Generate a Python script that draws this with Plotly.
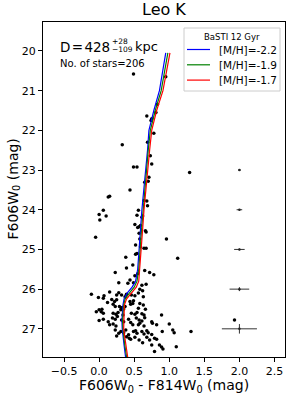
import plotly.graph_objects as go

# ---- data ----
star_color = [
    0.49, 0.95, 0.83, 0.81, 0.68, 0.75, 0.74, 0.78, 0.33, 0.69, 0.73, 0.75, 0.49, 0.54, 0.71, 0.70, 0.65, 1.29,
    0.44, 0.15, 0.13, 0.64, 0.68, 0.69, 0.56, 0.06, 0.00, 0.10, 0.01, 0.54, 0.62, 0.61, 0.51, 0.57, 0.59, 0.55,
    0.57, 0.67, 0.66, -0.05, 0.96, 0.58, 0.52, 0.59, 0.64, 0.67, 1.12, 0.38, 0.52, 0.54, 0.48, 0.39, 0.23, 0.65,
    0.72, 0.78, 0.55, 0.51, 0.44, 0.49, 0.41, 0.28, 0.67, 0.61,
    0.62, 0.58, 0.56, 0.28, -0.11, -0.01, 0.07, 0.15, 0.12, 0.22, 0.25, 0.32, 0.39, 0.37, 0.46, 0.51, 0.63, 0.44,
    0.49, 0.04, 0.00, -0.04, 0.03, 0.20, 0.23, 0.29, 0.32, 0.31, 0.37, 0.45, 0.48, 0.58, 0.63, 0.56, 0.66,
    0.25, 0.06, 0.18, 0.33, 0.35,
    0.06, 0.20, 0.24, 0.27, 0.34, 0.46, 0.51, 0.54, 0.61, 0.64, 0.89, 0.00, 0.06, 0.13, 0.23, 0.15, 0.20, 0.24,
    0.32, 0.35, 0.42, 0.45, 0.53, 0.57, 0.61, 0.48, 0.56, 0.58, 0.75, 0.76, 0.64, 0.82, 1.00, 1.93, 0.31, 0.35,
    0.38, 0.42, 0.49, 0.52, 0.54, 0.61, 0.64, 0.68, 0.70, 0.45, 0.51, 0.57, 0.62, 0.68, 0.72, 0.79, 0.82, 0.90,
    1.05, 1.07, 1.31, 0.86, 0.89, 0.91, 0.79, 1.10, 0.23, 0.25, 0.28, 0.75, 0.75, 0.19, 0.26, 0.39, 0.43, 0.65,
]
star_mag = [
    20.58, 20.65, 21.34, 21.55, 21.64, 21.71, 21.75, 22.07, 22.36, 22.30, 22.64, 22.85, 22.92, 22.92, 23.18, 23.28, 23.31, 23.06,
    23.50, 23.66, 23.68, 23.77, 23.78, 23.90, 24.01, 24.01, 24.12, 24.16, 24.26, 24.14, 24.16, 24.19, 24.37, 24.43, 24.40, 24.45,
    24.59, 24.56, 24.53, 24.69, 24.74, 24.74, 24.89, 24.93, 24.97, 24.97, 25.22, 25.20, 25.12, 25.10, 25.39, 25.47, 25.58, 25.53,
    25.58, 25.64, 25.61, 25.66, 25.77, 25.84, 25.85, 25.84, 25.88, 25.90,
    26.04, 26.00, 26.10, 26.09, 26.13, 26.21, 26.17, 26.07, 26.34, 26.31, 26.27, 26.15, 26.13, 26.19, 26.15, 26.17, 26.19, 26.31,
    26.29, 26.51, 26.52, 26.57, 26.57, 26.38, 26.44, 26.44, 26.48, 26.52, 26.44, 26.38, 26.36, 26.36, 26.40, 26.48, 26.51,
    26.15, 26.23, 26.26, 26.46, 26.50,
    26.61, 26.61, 26.63, 26.59, 26.65, 26.61, 26.63, 26.59, 26.62, 26.65, 26.65, 26.79, 26.76, 26.82, 26.76, 26.90, 26.88, 26.93,
    26.78, 26.82, 26.76, 26.84, 26.73, 26.78, 26.80, 26.90, 26.90, 26.86, 26.82, 26.86, 26.93, 26.90, 26.88, 26.78, 27.07, 27.10,
    27.03, 27.15, 27.07, 27.05, 27.11, 27.07, 27.13, 27.05, 27.10, 27.26, 27.21, 27.28, 27.35, 27.21, 27.28, 27.24, 27.26, 27.07,
    27.03, 27.10, 27.07, 27.41, 27.46, 27.51, 27.57, 27.45, 27.03, 27.18, 27.11, 27.14, 27.41, 26.73, 26.69, 27.20, 27.24, 26.72,
]

err_mag = [23, 24, 25, 26, 27]
err_color = [2.0, 2.0, 2.0, 2.0, 2.0]
err_dcolor = [0.02, 0.04, 0.075, 0.14, 0.25]
err_dmag = [0.01, 0.015, 0.02, 0.05, 0.12]

iso_mag = [20.05, 20.5, 21.0, 21.5, 22.0, 22.5, 23.0, 23.5, 24.0, 24.5, 25.0, 25.5, 25.8, 25.95,
           26.1, 26.25, 26.4, 26.6, 26.8, 27.0, 27.2, 27.4, 27.75]
iso_m22 = [0.95, 0.91, 0.86, 0.78, 0.71, 0.69, 0.66, 0.63, 0.61, 0.59, 0.57, 0.55, 0.52, 0.47,
           0.40, 0.355, 0.34, 0.33, 0.325, 0.33, 0.34, 0.355, 0.38]
iso_m19 = [0.98, 0.935, 0.885, 0.80, 0.73, 0.70, 0.675, 0.645, 0.625, 0.605, 0.585, 0.565, 0.54, 0.50,
           0.43, 0.37, 0.35, 0.34, 0.335, 0.34, 0.35, 0.365, 0.395]
iso_m17 = [1.01, 0.96, 0.91, 0.82, 0.75, 0.72, 0.69, 0.66, 0.64, 0.62, 0.60, 0.58, 0.565, 0.53,
           0.46, 0.39, 0.36, 0.355, 0.345, 0.35, 0.365, 0.38, 0.41]
iso_labels = ["[M/H]=-2.2", "[M/H]=-1.9", "[M/H]=-1.7"]
iso_colors = ["#0000ff", "#008000", "#ff0000"]
legend_title = "BaSTI 12 Gyr"

FONT = "DejaVu Sans"
L, R, T, B, W, H = 43, 6, 22, 41, 291, 398
pw, ph = W - L - R, H - T - B


def px(x):
    return (x - L) / pw


def py(y):
    return 1 - (y - T) / ph


fig = go.Figure()

fig.add_trace(go.Scatter(
    x=star_color, y=star_mag, mode="markers",
    marker=dict(color="black", size=3.5), showlegend=False, hoverinfo="skip"))

fig.add_trace(go.Scatter(
    x=err_color, y=err_mag, mode="markers",
    marker=dict(color="#222222", size=2.5),
    error_x=dict(type="data", array=err_dcolor, color="#333333", thickness=1, width=0),
    error_y=dict(type="data", array=err_dmag, color="#333333", thickness=1, width=0),
    showlegend=False, hoverinfo="skip"))

for xs, lab, col in zip([iso_m22, iso_m19, iso_m17], iso_labels, iso_colors):
    fig.add_trace(go.Scatter(x=xs, y=iso_mag, mode="lines", name=lab, showlegend=False,
                             line=dict(color=col, width=1.2)))

axis_common = dict(showgrid=False, zeroline=False, showline=True, linecolor="black",
                   linewidth=1, mirror=True, ticks="outside", ticklen=4, tickcolor="black",
                   automargin=False,
                   tickfont=dict(family=FONT, size=11, color="black"))

fig.update_xaxes(range=[-0.8, 2.65], tickvals=[-0.5, 0.0, 0.5, 1.0, 1.5, 2.0, 2.5],
                 ticktext=["\u22120.5", "0.0", "0.5", "1.0", "1.5", "2.0", "2.5"],
                 **axis_common)
fig.update_yaxes(range=[27.71, 19.27], tickvals=[20, 21, 22, 23, 24, 25, 26, 27],
                 **axis_common)

ann = [
    dict(text="Leo K", x=0.5, y=1, xanchor="center", yanchor="bottom",
         yshift=1, font=dict(family=FONT, size=16, color="black")),
    dict(text="F606W<sub>0</sub> - F814W<sub>0</sub> (mag)", x=0.5, y=py(386), xanchor="center",
         yanchor="middle", font=dict(family=FONT, size=14, color="black")),
    dict(text="F606W<sub>0</sub> (mag)", x=px(13), y=0.5, xanchor="center", yanchor="middle",
         textangle=-90, font=dict(family=FONT, size=14, color="black")),
    dict(text="D\u200a=\u200a428", x=px(58), y=py(46.5), xanchor="left", yanchor="middle",
         font=dict(family=FONT, size=13.5, color="black")),
    dict(text="+28", x=px(110), y=py(42), xanchor="left", yanchor="middle",
         font=dict(family=FONT, size=7.5, color="black")),
    dict(text="\u2212109", x=px(110), y=py(49.5), xanchor="left", yanchor="middle",
         font=dict(family=FONT, size=7.5, color="black")),
    dict(text="kpc", x=px(133), y=py(46.5), xanchor="left", yanchor="middle",
         font=dict(family=FONT, size=13, color="black")),
    dict(text="No. of stars=206", x=px(58), y=py(63), xanchor="left", yanchor="middle",
         font=dict(family=FONT, size=10, color="black")),
    dict(text=legend_title, x=px(232), y=py(36.5), xanchor="center", yanchor="middle",
         font=dict(family=FONT, size=8.5, color="black")),
]
shapes = [dict(type="rect", xref="paper", yref="paper", x0=px(184), x1=px(280), y0=py(91), y1=py(28),
               line=dict(color="#cccccc", width=1), fillcolor="rgba(255,255,255,0.8)", layer="above")]
for i, (lab, col) in enumerate(zip(iso_labels, iso_colors)):
    yy = 49.5 + 15.3 * i
    shapes.append(dict(type="line", xref="paper", yref="paper", x0=px(187), x1=px(210),
                       y0=py(yy), y1=py(yy), line=dict(color=col, width=1.2), layer="above"))
    ann.append(dict(text=lab, x=px(217), y=py(yy), xanchor="left", yanchor="middle",
                    font=dict(family=FONT, size=10.5, color="black")))

for a in ann:
    a["xref"] = "paper"
    a["yref"] = "paper"
    a["showarrow"] = False

fig.update_layout(
    width=W, height=H, margin=dict(l=L, r=R, t=T, b=B, autoexpand=False),
    plot_bgcolor="white", paper_bgcolor="white",
    font=dict(family=FONT, color="black"),
    annotations=ann, shapes=shapes, showlegend=False,
)

fig.write_html("out.html", config={"displayModeBar": False},
               post_script="document.body.style.margin='0';document.body.style.overflow='hidden';")
